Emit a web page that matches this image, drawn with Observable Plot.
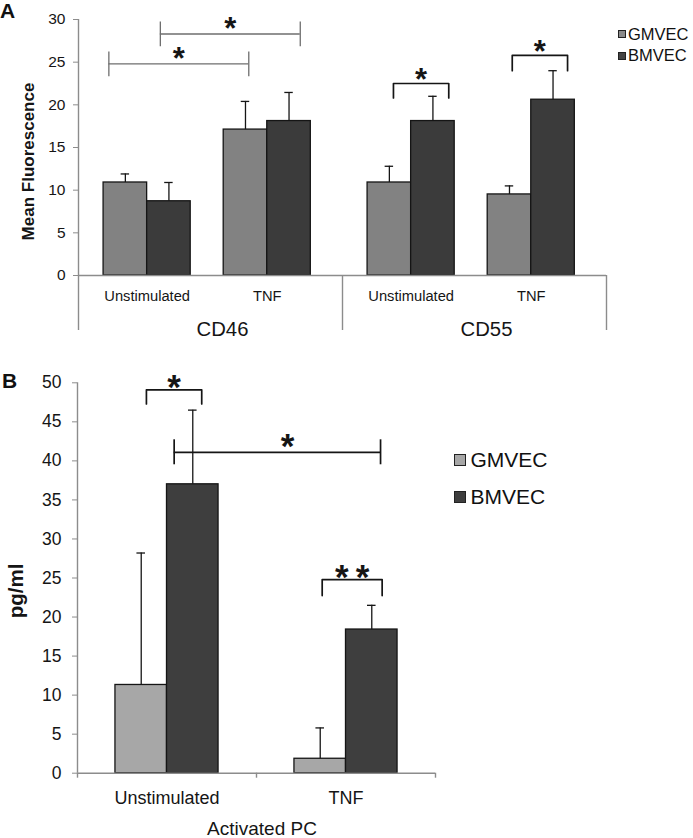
<!DOCTYPE html>
<html><head><meta charset="utf-8">
<script src="https://cdn.jsdelivr.net/npm/d3@7"></script>
<script src="https://cdn.jsdelivr.net/npm/@observablehq/plot@0.6"></script>
<style>
html,body{margin:0;padding:0;background:#fff;}
#fig{position:relative;width:693px;height:838px;font-family:"Liberation Sans",Arial,Helvetica,sans-serif;color:#111;overflow:hidden;background:#fff}
#fig svg{position:absolute;left:0}
.panel{position:absolute;font-weight:bold;font-size:21px;line-height:21px}
.leg{position:absolute;display:flex;align-items:center;white-space:nowrap;height:24px}
.leg i{display:inline-block;box-sizing:border-box;border:1px solid #222}
</style></head><body><div id="fig"></div>
<script>
// ---------------- data ----------------
const stimuli = ["Unstimulated", "TNF"];
const cellTypes = ["GMVEC", "BMVEC"];
const markersA = ["CD46", "CD55"];
// Panel A, order: CD46-Unstimulated, CD46-TNF, CD55-Unstimulated, CD55-TNF
const fluorGMVEC = [10.9, 17.1, 10.9, 9.5];
const fluorBMVEC = [8.7, 18.1, 18.1, 20.6];
const fluorErrGMVEC = [1.0, 3.3, 1.9, 1.0];
const fluorErrBMVEC = [2.2, 3.35, 2.9, 3.4];
const yTicksA = [0, 5, 10, 15, 20, 25, 30];
// Panel B (Activated PC), order: Unstimulated, TNF
const pcGMVEC = [11.3, 1.85];
const pcErrGMVEC = [16.9, 3.95];
const pcBMVEC = [37.0, 18.4];
const pcErrBMVEC = [9.5, 3.1];
const yTicksB = [0, 5, 10, 15, 20, 25, 30, 35, 40, 45, 50];
// significance annotations (x in category-slot units, y in data units)
const spansA = [
  {x1: 0.23, x2: 1.29, y: 24.8, label: "*"},
  {x1: 0.62, x2: 1.68, y: 28.3, label: "*"}
];
const bracketsA = [
  {x1: 2.386, x2: 2.805, y: 22.5, y0: 20.8, label: "*"},
  {x1: 3.286, x2: 3.705, y: 25.8, y0: 24.0, label: "*"}
];
const spansB = [
  {x1: 0.54, x2: 1.693, y: 41.1, lx: 1.173, label: "*"}
];
const bracketsB = [
  {x1: 0.385, x2: 0.694, y: 49.1, y0: 47.3, label: "*"},
  {x1: 1.367, x2: 1.702, y: 24.8, y0: 22.75, label: "*\u2009*"}
];

// ---------------- style / layout ----------------
const FONT = '"Liberation Sans", Arial, Helvetica, sans-serif';
const AXIS = "#8c8c8c";
const INK = "#151515";
const colorsA = ["#828282", "#3b3b3b"];
const colorsB = ["#a7a7a7", "#3e3e3e"];

const stimCenterA = [0.52, 1.43]; // pair centre inside each 2-slot marker group
const barWA = 0.33, capA = 0.032;
const rowsA = [];
markersA.forEach((m, mi) => stimuli.forEach((s, si) => cellTypes.forEach((c, ci) => {
  const k = mi * stimuli.length + si;
  const v = (ci === 0 ? fluorGMVEC : fluorBMVEC)[k];
  const e = (ci === 0 ? fluorErrGMVEC : fluorErrBMVEC)[k];
  const center = mi * 2 + stimCenterA[si];
  rowsA.push({marker: m, stim: s, cell: c, value: v, top: v + e,
    x1: center + (ci - 1) * barWA, x2: center + ci * barWA, xc: center + (ci - 0.5) * barWA});
})));
const stimTicksA = markersA.flatMap((m, mi) => stimCenterA.map(c => mi * 2 + c));
const stimLabelA = new Map(stimTicksA.map((t, i) => [t, stimuli[i % stimuli.length]]));
const markerRowsA = markersA.map((m, mi) => ({marker: m, xc: mi * 2 + 1}));

const barWB = 0.288, capB = 0.024;
const rowsB = [];
stimuli.forEach((s, si) => cellTypes.forEach((c, ci) => {
  const v = (ci === 0 ? pcGMVEC : pcBMVEC)[si];
  const e = (ci === 0 ? pcErrGMVEC : pcErrBMVEC)[si];
  const center = si + 0.5;
  rowsB.push({stim: s, cell: c, value: v, top: v + e,
    x1: center + (ci - 1) * barWB, x2: center + ci * barWB, xc: center + (ci - 0.5) * barWB});
}));
const stimTicksB = stimuli.map((s, i) => i + 0.5);
const stimLabelB = new Map(stimTicksB.map((t, i) => [t, stimuli[i]]));

function bracketPoints(list) {
  return list.flatMap((b, i) => [
    {id: i, x: b.x1, y: b.y0}, {id: i, x: b.x1, y: b.y},
    {id: i, x: b.x2, y: b.y}, {id: i, x: b.x2, y: b.y0}]);
}
function spanEnds(list) {
  return list.flatMap(s => [{x: s.x1, y: s.y}, {x: s.x2, y: s.y}]);
}
// asterisk glyph centre sits ~0.255em above the text anchor with lineAnchor "middle"
const starDy = (offsetPx, fs) => -(offsetPx - 0.255 * fs);

// ---------------- Panel A ----------------
const plotA = Plot.plot({
  width: 693, height: 345,
  marginTop: 19, marginBottom: 70, marginLeft: 78, marginRight: 87,
  style: {fontFamily: FONT, fontSize: "15.5px", color: INK, background: "transparent", overflow: "visible"},
  x: {type: "linear", domain: [0, 4]},
  y: {domain: [0, 30]},
  color: {domain: cellTypes, range: colorsA},
  marks: [
    Plot.ruleX([0], {stroke: AXIS, strokeWidth: 1.4}),
    Plot.axisY({ticks: yTicksA, tickSize: 5, tickPadding: 8, stroke: AXIS, fontSize: 15.5, label: null}),
    Plot.axisX({ticks: [0, 2, 4], tickSize: 55, tickFormat: () => "", stroke: AXIS, strokeWidth: 1.4, label: null}),
    Plot.axisX({ticks: stimTicksA, tickSize: 0, tickPadding: 15, tickFormat: d => stimLabelA.get(d), fontSize: 14.7, label: null}),
    Plot.text(markerRowsA, {x: "xc", text: "marker", frameAnchor: "bottom", lineAnchor: "top", dy: 46.5, dx: 12, fontSize: 20.3, fill: INK}),
    Plot.rectY(rowsA, {x1: "x1", x2: "x2", y1: 0, y2: "value", fill: "cell", stroke: INK, strokeWidth: 1.3}),
    Plot.ruleY([0], {stroke: AXIS, strokeWidth: 1.4}),
    Plot.ruleX(rowsA, {x: "xc", y1: "value", y2: "top", stroke: INK, strokeWidth: 1.3}),
    Plot.ruleY(rowsA, {y: "top", x1: d => d.xc - capA, x2: d => d.xc + capA, stroke: INK, strokeWidth: 1.3}),
    Plot.ruleY(spansA, {y: "y", x1: "x1", x2: "x2", stroke: "#6e6e6e", strokeWidth: 1.3}),
    Plot.ruleX(spanEnds(spansA), {x: "x", y1: d => d.y - 1.5, y2: d => d.y + 1.4, stroke: "#6e6e6e", strokeWidth: 1.3}),
    Plot.line(bracketPoints(bracketsA), {x: "x", y: "y", z: "id", stroke: INK, strokeWidth: 1.7}),
    Plot.text(spansA, {x: d => (d.x1 + d.x2) / 2, y: "y", text: "label", fontSize: 31, fontWeight: "bold", lineAnchor: "middle", dy: starDy(13, 31), fill: INK}),
    Plot.text(bracketsA, {x: d => (d.x1 + d.x2) / 2, y: "y", text: "label", fontSize: 31, fontWeight: "bold", lineAnchor: "middle", dy: starDy(11, 31), fill: INK}),
    Plot.text(["Mean Fluorescence"], {frameAnchor: "left", textAnchor: "middle", rotate: -90, dx: -49.5, dy: 14, fontSize: 17, fontWeight: "bold", fill: INK})
  ]
});
plotA.style.top = "0px";

// ---------------- Panel B ----------------
const plotB = Plot.plot({
  width: 693, height: 478,
  marginTop: 22.3, marginBottom: 65.3, marginLeft: 77, marginRight: 258,
  style: {fontFamily: FONT, fontSize: "17.5px", color: INK, background: "transparent", overflow: "visible"},
  x: {type: "linear", domain: [0, 2]},
  y: {domain: [0, 50]},
  color: {domain: cellTypes, range: colorsB},
  marks: [
    Plot.ruleX([0], {stroke: AXIS, strokeWidth: 1.4}),
    Plot.axisY({ticks: yTicksB, tickSize: 5, tickPadding: 11, stroke: AXIS, fontSize: 17.5, label: null}),
    Plot.axisX({ticks: [0, 1, 2], tickSize: 5, tickFormat: () => "", stroke: AXIS, strokeWidth: 1.4, label: null}),
    Plot.axisX({ticks: stimTicksB, tickSize: 0, tickPadding: 18, tickFormat: d => stimLabelB.get(d), fontSize: 18, label: null}),
    Plot.text(["Activated PC"], {frameAnchor: "bottom", lineAnchor: "top", dy: 48, dx: 5.5, fontSize: 19, fill: INK}),
    Plot.rectY(rowsB, {x1: "x1", x2: "x2", y1: 0, y2: "value", fill: "cell", stroke: INK, strokeWidth: 1.3}),
    Plot.ruleY([0], {stroke: AXIS, strokeWidth: 1.4}),
    Plot.ruleX(rowsB, {x: "xc", y1: "value", y2: "top", stroke: INK, strokeWidth: 1.3}),
    Plot.ruleY(rowsB, {y: "top", x1: d => d.xc - capB, x2: d => d.xc + capB, stroke: INK, strokeWidth: 1.3}),
    Plot.ruleY(spansB, {y: "y", x1: "x1", x2: "x2", stroke: INK, strokeWidth: 1.7}),
    Plot.ruleX(spanEnds(spansB), {x: "x", y1: d => d.y - 1.6, y2: d => d.y + 1.6, stroke: INK, strokeWidth: 1.7}),
    Plot.line(bracketPoints(bracketsB), {x: "x", y: "y", z: "id", stroke: INK, strokeWidth: 1.7}),
    Plot.text(spansB, {x: "lx", y: "y", text: "label", fontSize: 35, fontWeight: "bold", lineAnchor: "middle", dy: starDy(14, 35), fill: INK}),
    Plot.text(bracketsB, {x: d => (d.x1 + d.x2) / 2, y: "y", text: "label", fontSize: 35, fontWeight: "bold", lineAnchor: "middle", dy: starDy(11, 35), fill: INK}),
    Plot.text(["pg/ml"], {frameAnchor: "left", textAnchor: "middle", rotate: -90, dx: -61, dy: 13, fontSize: 20.5, fontWeight: "bold", fill: INK})
  ]
});
plotB.style.top = "360px";

const fig = document.getElementById("fig");
fig.append(plotA, plotB);

// panel letters
function addDiv(cls, css, html) {
  const d = document.createElement("div");
  d.className = cls; d.style.cssText = css; d.innerHTML = html; fig.append(d); return d;
}
addDiv("panel", "left:0px;top:0px", "A");
addDiv("panel", "left:2px;top:370px", "B");

// legends
function legend(items, colors, {left, tops, size, fontSize, gap}) {
  items.forEach((name, i) => {
    const d = document.createElement("div");
    d.className = "leg";
    d.style.cssText = `left:${left}px;top:${tops[i] - 12}px;font-size:${fontSize}px`;
    const sq = document.createElement("i");
    sq.style.cssText = `width:${size}px;height:${size}px;background:${colors[i]}`;
    const sp = document.createElement("span");
    sp.style.marginLeft = gap + "px";
    sp.textContent = name;
    d.append(sq, sp);
    fig.append(d);
  });
}
legend(cellTypes, ["#8a8a8a", "#444"], {left: 618, tops: [34, 55.5], size: 8, fontSize: 16.5, gap: 2});
legend(cellTypes, colorsB, {left: 454, tops: [460, 497], size: 12, fontSize: 21, gap: 4.5});
</script></body></html>
